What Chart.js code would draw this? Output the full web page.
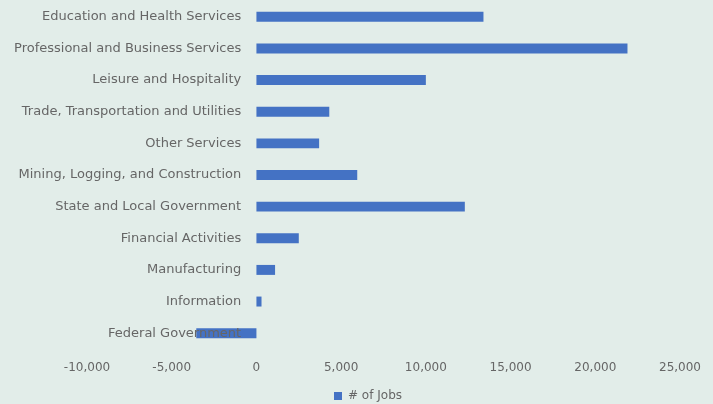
<!DOCTYPE html>
<html>
<head>
<meta charset="utf-8">
<script src="https://cdn.jsdelivr.net/npm/chart.js@4/dist/chart.umd.min.js"></script>
<style>
  html, body { margin: 0; padding: 0; background: #e2ede9; }
  #wrap { width: 713px; height: 404px; }
</style>
</head>
<body>
<div id="wrap"><canvas id="jobsChart" width="713" height="404"></canvas></div>
<script>
// Job change by industry
const industries = [
    'Education and Health Services',
    'Professional and Business Services',
    'Leisure and Hospitality',
    'Trade, Transportation and Utilities',
    'Other Services',
    'Mining, Logging, and Construction',
    'State and Local Government',
    'Financial Activities',
    'Manufacturing',
    'Information',
    'Federal Government'
];
const jobs = [13400, 21900, 10000, 4300, 3700, 5950, 12300, 2500, 1100, 300, -3550];
const xTicks = [-10000, -5000, 0, 5000, 10000, 15000, 20000, 25000];

const labelColor = '#666666';
const tickFont = { family: 'DejaVu Sans', size: 12 };
const categoryFont = { family: 'DejaVu Sans', size: 13 };

const ctx = document.getElementById('jobsChart').getContext('2d');
const jobsChart = new Chart(ctx, {
    type: 'bar',
    data: {
        labels: industries,
        datasets: [{
            label: '# of Jobs',
            data: jobs,
            backgroundColor: '#4472c4',
            borderWidth: 0,
            barPercentage: 0.9,
            categoryPercentage: 0.35
        }]
    },
    options: {
        indexAxis: 'y',
        responsive: false,
        animation: false,
        layout: { padding: { left: 56, right: 33, top: 1, bottom: -8 } },
        scales: {
            x: {
                min: xTicks[0],
                max: xTicks[xTicks.length - 1],
                afterBuildTicks: axis => { axis.ticks = xTicks.map(v => ({ value: v })); },
                // keep the plot starting at 87px while the legend centres on a wider box
                afterFit: axis => { axis.height = 38; axis.paddingLeft = 87; },
                grid: { display: false, drawTicks: false },
                border: { display: false },
                ticks: { color: labelColor, font: tickFont, padding: 12, maxRotation: 0 }
            },
            y: {
                // category names sit just left of the zero line
                position: { x: -900 },
                afterFit: axis => { axis.paddingTop = 0; axis.paddingBottom = 0; },
                grid: { display: false, drawTicks: false },
                border: { display: false },
                ticks: { color: labelColor, font: categoryFont, padding: 0, z: 1 }
            }
        },
        plugins: {
            legend: {
                position: 'bottom',
                labels: { color: labelColor, font: tickFont, boxWidth: 8, boxHeight: 8, padding: 3 }
            },
            tooltip: { enabled: false }
        }
    }
});
</script>
</body>
</html>
